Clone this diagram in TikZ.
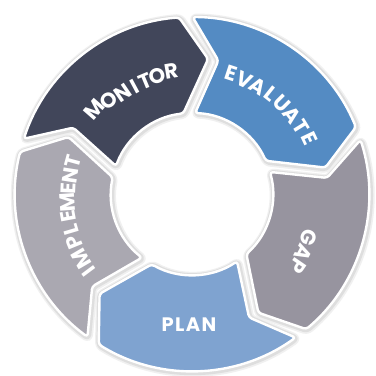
\documentclass[tikz,border=0pt]{standalone}
\usepackage{fontspec}
\newfontfamily\lblfont{Poppins}
\newfontfamily\planfont{Poppins}[LetterSpace=7]
\definecolor{cMon}{HTML}{41465A}
\definecolor{cEva}{HTML}{548BC3}
\definecolor{cGap}{HTML}{97949F}
\definecolor{cPlan}{HTML}{7FA3D0}
\definecolor{cImp}{HTML}{AAA8B1}
\def\segRo{177}\def\segRi{81}\def\segRm{136}
\def\segho{2.2}\def\seghi{4.2}\def\seght{2.2}\def\segdd{11}
\newcommand\segp[2]{({#1-\segho}:\segRo) arc[start angle={#1-\segho}, end angle={#2+\segho}, radius=\segRo] -- ({#2-\segdd+\seght}:\segRm) -- ({#2+\seghi}:\segRi) arc[start angle={#2+\seghi}, end angle={#1-\seghi}, radius=\segRi] -- ({#1-\segdd-\seght}:\segRm) -- cycle}
\newcommand\lblfmt{\lblfont\bfseries\fontsize{21pt}{21pt}\selectfont}
\newcommand\planfmt{\planfont\bfseries\fontsize{19.5pt}{19.5pt}\selectfont}
\tikzset{
  segshadowA/.style={draw=black!6, line width=9pt, line join=round, rounded corners=3pt},
  segshadowB/.style={draw=black!13, line width=6pt, line join=round, rounded corners=3pt},
  segfill/.style={fill=#1, draw=white, line width=2.4pt, line join=round, rounded corners=3pt},
  lblchar/.style={text=white, font=\lblfmt, inner sep=0pt, anchor=center}
}
\begin{document}
\begin{tikzpicture}[x=1pt,y=1pt]
\fill[white] (-192,-182) rectangle (184,194);
\useasboundingbox (-192,-182) rectangle (184,194);
% shadows
\foreach \s/\e in {164/92, 92/20, 20/-52, -52/-124, 236/164}{
  \path[segshadowA, shift={(0.8,-1)}] \segp{\s}{\e};
}
\foreach \s/\e in {164/92, 92/20, 20/-52, -52/-124, 236/164}{
  \path[segshadowB, shift={(0.6,-0.8)}] \segp{\s}{\e};
}
% segments
\path[segfill=cMon] \segp{164}{92};
\path[segfill=cEva] \segp{92}{20};
\path[segfill=cGap] \segp{20}{-52};
\path[segfill=cPlan] \segp{-52}{-124};
\path[segfill=cImp] \segp{236}{164};
% labels, letter by letter along the ring
\foreach \l/\a/\r [count=\i] in {M/139/129, O/131.7/125.9, N/124.3/122.5, I/118.3/121.5, T/112.7/121.7, O/106.4/122.5, R/99.6/125}
  \node[lblchar, rotate=\a-90] (mon\i) at (\a:\r) {\l};
\foreach \l/\a/\r [count=\i] in {E/71.8/127, V/65.1/126, A/58.3/126.3, L/51.6/127.5, U/45.0/127.5, A/38.0/127.6, T/31.6/128.5, E/25.3/130}
  \node[lblchar, rotate=\a-90] (eva\i) at (\a:\r) {\l};
\foreach \l/\a/\r [count=\i] in {G/-20.5/125, A/-27.6/126, P/-34.4/128}
  \node[lblchar, rotate=\a-90] (gap\i) at (\a:\r) {\l};
\foreach \l/\a/\r [count=\i] in {I/216.8/129, M/210.2/128, P/202.2/127.5, L/196.4/126.5, E/190.4/125.5, M/183.8/124.5, E/177.4/124, N/171.2/123.5, T/164.8/123}
  \node[lblchar, rotate=\a-90] (imp\i) at (\a:\r) {\l};
\node[text=white, font=\planfmt, inner sep=0pt] (plan) at (-3,-131) {PLAN};
\end{tikzpicture}
\end{document}
